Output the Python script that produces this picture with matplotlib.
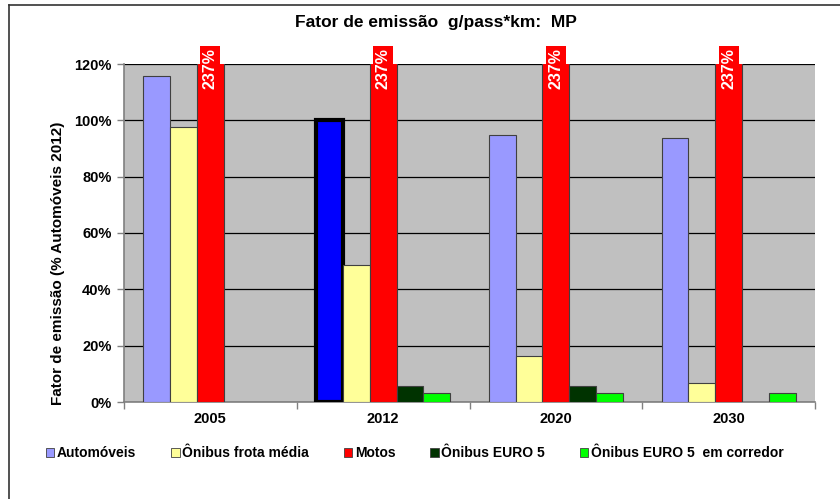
import numpy as np
import matplotlib
matplotlib.use("Agg")
import matplotlib.pyplot as plt
from matplotlib.patches import Patch
from matplotlib.lines import Line2D

# valores (% do fator de emissao de Automoveis 2012)
anos = ["2005", "2012", "2020", "2030"]
automoveis = [115.7, 100.0, 94.8, 93.7]
onibus_frota = [97.5, 48.6, 16.5, 6.8]
motos = [237, 237, 237, 237]
onibus_euro5 = [np.nan, 5.7, 5.7, np.nan]
onibus_corredor = [np.nan, 3.2, 3.2, 3.2]

series = [
    ("Automóveis", automoveis, "#9999FF"),
    ("Ônibus frota média", onibus_frota, "#FFFF99"),
    ("Motos", motos, "#FF0000"),
    ("Ônibus EURO 5", onibus_euro5, "#003300"),
    ("Ônibus EURO 5  em corredor", onibus_corredor, "#00FF00"),
]

plt.rcParams['font.family'] = ['Liberation Sans', 'DejaVu Sans']
plt.rcParams['font.weight'] = 'bold'

W, H = 840, 499
fig = plt.figure(figsize=(W / 100, H / 100), dpi=100)
fig.patch.set_facecolor('white')

# moldura externa (borda esquerda e superior)
fig.add_artist(Line2D([9 / W, 9 / W], [0, 1 - 5 / H], color='#333333', lw=1.2))
fig.add_artist(Line2D([9 / W, 1], [1 - 5 / H, 1 - 5 / H], color='#333333', lw=1.2))

ax = fig.add_axes([124 / W, 1 - 402 / H, 691 / W, 338 / H])
ax.set_facecolor('#C0C0C0')

x = np.arange(len(anos)) + 0.5
bw = 0.155
n = len(series)
bars_by_name = {}
for i, (nome, vals, cor) in enumerate(series):
    off = (i - (n - 1) / 2) * bw
    b = ax.bar(x + off, vals, width=bw, color=cor, edgecolor='#404040',
               linewidth=0.8, label=nome, zorder=3)
    bars_by_name[nome] = b

# Automoveis 2012 = referencia, em destaque
ref = bars_by_name["Automóveis"][1]
ref.set_facecolor('#0000FF')
ref.set_edgecolor('black')
ref.set_linewidth(3)

ax.set_ylim(0, 120)
ax.set_xlim(0, 4)

# rotulos das motos, que passam do topo do eixo
for rect, v in zip(bars_by_name["Motos"], motos):
    xc = rect.get_x() + rect.get_width() / 2
    ax.annotate(f"{v:.0f}%", xy=(xc, 120), xytext=(0, 11.5),
                textcoords='offset points', ha='center', va='top',
                rotation=90, color='white', fontsize=11.5, fontweight='bold',
                annotation_clip=False, zorder=5,
                bbox=dict(boxstyle='square,pad=0.15', fc='#FF0000', ec='none'))

ax.set_yticks(np.arange(0, 121, 20))
ax.set_yticklabels([f"{t}%" for t in range(0, 121, 20)], fontsize=10.5, fontweight='bold')
ax.set_xticks(np.arange(0, 5))
ax.set_xticklabels([])
ax.set_xticks(x, minor=True)
ax.set_xticklabels(anos, minor=True, fontsize=10.5, fontweight='bold')
ax.tick_params(axis='x', which='minor', length=0, pad=7)
ax.tick_params(axis='both', which='major', direction='out', length=5,
               color='#808080', width=1)
ax.tick_params(axis='y', pad=4)

ax.yaxis.grid(True, color='black', lw=0.9, zorder=1)
ax.set_axisbelow(True)
for s in ['top', 'right']:
    ax.spines[s].set_visible(False)
for s in ['left', 'bottom']:
    ax.spines[s].set_color('#808080')
    ax.spines[s].set_linewidth(1.2)

fig.text(58 / W, 1 - 263 / H, "Fator de emissão (% Automóveis 2012)",
         rotation=90, ha='center', va='center', fontsize=11, fontweight='bold')
fig.text(436 / W, 1 - 22 / H, "Fator de emissão  g/pass*km:  MP",
         ha='center', va='center', fontsize=12.5, fontweight='bold')

handles = [Patch(facecolor=c, edgecolor='#404040', lw=0.6) for _, _, c in series]
fig.legend(handles, [s[0] for s in series], loc='center left',
           bbox_to_anchor=(46 / W, 1 - 453 / H), ncol=5, frameon=False,
           handlelength=0.6, handleheight=0.6, handletextpad=0.2,
           columnspacing=2.5, borderaxespad=0, borderpad=0,
           prop={'weight': 'bold', 'size': 10})

fig.savefig("out.png", dpi=100)
